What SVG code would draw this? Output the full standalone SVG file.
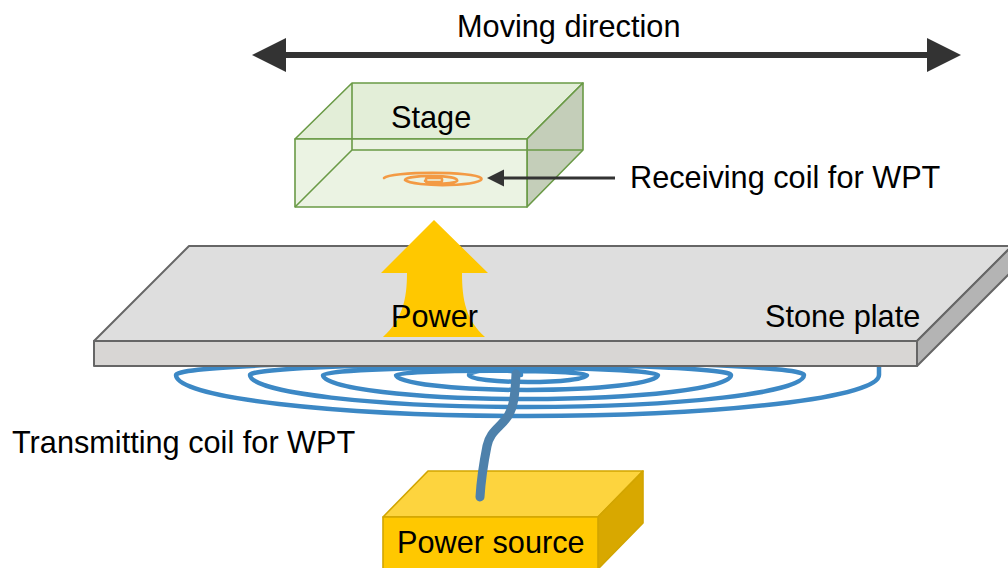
<svg xmlns="http://www.w3.org/2000/svg" width="1008" height="568" viewBox="0 0 1008 568">
  <style>
    .lbl { font-family: "Liberation Sans", Arial, sans-serif; font-size: 30.7px; fill: #000; }
    .plate { stroke: #666; stroke-width: 2; stroke-linejoin: round; }
    .stage { stroke: #6a9a46; stroke-width: 1.6; stroke-linejoin: round; }
    .psrc { stroke: #d2a500; stroke-width: 1.6; stroke-linejoin: round; }
    .coil { fill: none; stroke: #3c88c5; stroke-width: 4.5; stroke-linecap: round; }
  </style>
  <defs>
    <marker id="headBig" markerUnits="userSpaceOnUse" markerWidth="34" markerHeight="34" refX="16" refY="17" orient="auto-start-reverse">
      <path d="M0,0 L34,17 L0,34 Z" fill="#333"/>
    </marker>
    <marker id="headSmall" markerUnits="userSpaceOnUse" markerWidth="18" markerHeight="18" refX="7" refY="8.5" orient="auto">
      <path d="M0,0 L17,8.5 L0,17 Z" fill="#333"/>
    </marker>
  </defs>

  <!-- transmitting coil under the plate -->
  <g id="tx-coil">
    <path class="coil" d="M521,375 A26 5 0 0 0 469,375
      A59 7 0 0 0 587,375
      A95.5 4.3 0 0 0 396,375
      A131 15 0 0 0 658,375
      A167.5 7.5 0 0 0 323,375
      A204 24 0 0 0 731,375
      A240.5 11 0 0 0 250,375
      A277 32 0 0 0 804,375
      A314 14 0 0 0 176,375
      A351.5 41 0 0 0 879,375
      L879,362"/>
  </g>

  <!-- stone plate -->
  <g id="stone-plate">
    <polygon class="plate" points="94,341 189,246 1012,246 917,341" fill="#dedede"/>
    <polygon class="plate" points="917,341 1012,246 1012,271 917,366" fill="#b4b4b4"/>
    <rect class="plate" x="94" y="341" width="823" height="25" fill="#d8d6d4"/>
    <text class="lbl" x="765" y="327">Stone plate</text>
  </g>

  <!-- power flow -->
  <g id="power-arrow">
    <path d="M434,220 L488,273 L462,273 C462,300 466,320 485,337 L383,337 C402,320 407,300 407,273 L381,273 Z" fill="#ffc800"/>
    <text class="lbl" x="391" y="327">Power</text>
  </g>

  <!-- moving stage with receiving coil -->
  <g id="stage">
    <polygon class="stage" points="295,139 352,83 583,83 527,139" fill="#e3eed8"/>
    <polygon class="stage" points="527,139 583,83 583,150 527,207" fill="#c4ceb9"/>
    <rect class="stage" x="295" y="139" width="232" height="68" fill="#ebf3e3"/>
    <path class="stage" fill="none" d="M352,83 V150 H583 M352,150 L295,207"/>
    <text class="lbl" x="391" y="128">Stage</text>
  </g>

  <g id="rx-coil" fill="none" stroke="#f39a44" stroke-width="2.6" stroke-linecap="round">
    <path d="M384,178 A49 6 0 0 1 481,178 A38 6 0 0 1 405,180 A26 4 0 0 1 457,180 A16 3 0 0 1 425,181"/>
    <rect x="426" y="178" width="16" height="4" rx="1"/>
  </g>

  <!-- power source -->
  <g id="power-source">
    <polygon class="psrc" points="383,517 428,471 643,471 598,517" fill="#fdd43e"/>
    <polygon class="psrc" points="598,517 643,471 643,523 598,569" fill="#d8a800"/>
    <rect class="psrc" x="383" y="517" width="215" height="55" fill="#ffc800"/>
    <text class="lbl" x="397" y="553">Power source</text>
  </g>

  <!-- feed wire from source to coil -->
  <g id="feed-wire">
    <path d="M516,374 C515,395 514,406 508,416 C500,428 490,431 487,446 C483,466 481,481 480,497" fill="none" stroke="#4e81ab" stroke-width="9" stroke-linecap="round"/>
  </g>

  <!-- labels -->
  <g id="labels">
    <text class="lbl" x="457" y="37">Moving direction</text>
    <text class="lbl" x="630" y="188">Receiving coil for WPT</text>
    <text class="lbl" x="12" y="453">Transmitting coil for WPT</text>
  </g>

  <!-- connectors -->
  <g id="connectors" stroke="#333" fill="none">
    <line x1="270" y1="55" x2="943" y2="55" stroke-width="6" marker-start="url(#headBig)" marker-end="url(#headBig)"/>
    <line x1="615" y1="178" x2="497" y2="178" stroke-width="3" marker-end="url(#headSmall)"/>
  </g>
</svg>
